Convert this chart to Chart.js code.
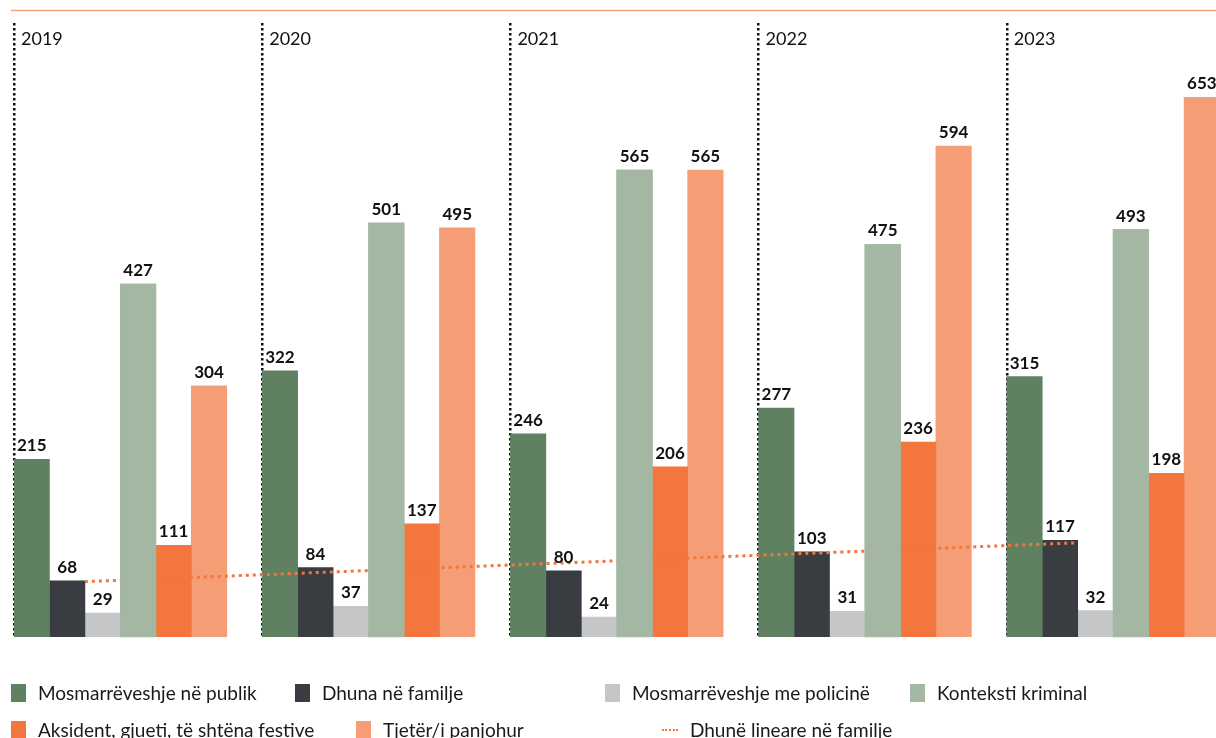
<!DOCTYPE html>
<html>
<head>
<meta charset="utf-8">
<script src="https://cdn.jsdelivr.net/npm/chart.js@4/dist/chart.umd.min.js"></script>
<style>
  body { margin: 0; overflow: hidden; background: #fff; font-family: Lato, sans-serif; }
  #wrap { position: relative; width: 1256px; height: 738px; }
  .lg { position: absolute; font-size: 19px; color: #1a1a1a; white-space: nowrap; line-height: 20px; }
  .sw { position: absolute; width: 15px; height: 18px; }
  .dl { position: absolute; width: 16px; height: 0; border-top: 2px dotted #f2763d; }
</style>
</head>
<body>
<div id="wrap">
  <canvas id="myChart" width="1256" height="738"></canvas>
</div>
<script>
const years = ['2019', '2020', '2021', '2022', '2023']

const publik = [215, 322, 246, 277, 315]
const familje = [68, 84, 80, 103, 117]
const policine = [29, 37, 24, 31, 32]
const kriminal = [427, 501, 565, 475, 493]
const aksident = [111, 137, 206, 236, 198]
const panjohur = [304, 495, 565, 594, 653]

// trend line (start 2019, end 2023)
const trendYear = [0, 4]
const trend = [67, 114]

const names = [
    'Mosmarrëveshje në publik',
    'Dhuna në familje',
    'Mosmarrëveshje me policinë',
    'Konteksti kriminal',
    'Aksident, gjueti, të shtëna festive',
    'Tjetër/i panjohur',
    'Dhunë lineare në familje'
]
const colors = ['#5f8161', '#393d41', '#c5c6c8', '#a4b7a3', '#f2763d', '#f59e75']

const ctx = document.getElementById('myChart').getContext('2d')

// each year is one unit on the x axis, bars fill 6 of its 7 slots
const series = [publik, familje, policine, kriminal, aksident, panjohur]
const datasets = series.map((d, i) => ({
    label: names[i],
    data: d.map((v, k) => ({ x: k + 0.5, y: v })),
    backgroundColor: colors[i],
    borderWidth: 0
}))
// empty 7th slot
datasets.push({ label: '', data: years.map((y, k) => ({ x: k + 0.5, y: 0 })), backgroundColor: 'transparent' })
// trend line runs from the right edge of the dark bars
datasets.push({
    type: 'line',
    label: names[6],
    data: trendYear.map((k, i) => ({ x: k + 2 / 7, y: trend[i] })),
    borderColor: '#f2763d',
    borderWidth: 3,
    borderDash: [3, 4],
    pointRadius: 0,
    fill: false,
    order: -1
})

const extras = {
    id: 'extras',
    beforeDraw(chart) {
        const c = chart.ctx
        c.save()
        c.strokeStyle = '#f8a272'
        c.lineWidth = 1.5
        c.beginPath()
        c.moveTo(11, 10.5)
        c.lineTo(chart.width, 10.5)
        c.stroke()
        c.restore()
    },
    afterDatasetsDraw(chart) {
        // sage bars sit on top of the trend line
        chart.getDatasetMeta(3).controller.draw()
        const c = chart.ctx
        const xs = chart.scales.x
        c.save()
        c.fillStyle = '#111'
        c.font = '18px Lato'
        c.textBaseline = 'middle'
        c.textAlign = 'left'
        years.forEach((y, i) => {
            c.fillText(y, xs.getPixelForValue(i) + 7, 39)
        })
        c.font = 'bold 17px Lato'
        c.textAlign = 'center'
        c.textBaseline = 'bottom'
        for (let d = 0; d < 6; d++) {
            chart.getDatasetMeta(d).data.forEach((el, i) => {
                c.fillText(series[d][i], el.x, el.y - 5)
            })
        }
        c.restore()
    }
}

const config = {
    type: 'bar',
    data: { datasets },
    options: {
        responsive: false,
        animation: false,
        barThickness: 1241 / 35,
        layout: { padding: { left: 14, right: 1, top: 23, bottom: 101 } },
        plugins: { legend: { display: false }, tooltip: { enabled: false } },
        scales: {
            x: {
                type: 'linear',
                min: 0,
                max: 5,
                offset: false,
                ticks: { display: false, stepSize: 1 },
                grid: { offset: false, color: '#111', lineWidth: 2.5, drawTicks: false },
                border: { display: false, dash: [2.5, 2.5] },
                afterFit: s => { s.height = 0 }
            },
            y: { min: 0, max: 743, display: false }
        }
    },
    plugins: [extras]
}

const myChart = new Chart(ctx, config)

// legend
const items = [
    { t: names[0], c: colors[0], x: 11, y: 684 },
    { t: names[1], c: colors[1], x: 295, y: 684 },
    { t: names[2], c: colors[2], x: 605, y: 684 },
    { t: names[3], c: colors[3], x: 910, y: 684 },
    { t: names[4], c: colors[4], x: 11, y: 721 },
    { t: names[5], c: colors[5], x: 356, y: 721 },
    { t: names[6], line: true, x: 662, y: 721 }
]
const wrap = document.getElementById('wrap')
items.forEach(it => {
    const m = document.createElement('div')
    if (it.line) {
        m.className = 'dl'
        m.style.left = it.x + 'px'
        m.style.top = (it.y + 8) + 'px'
    } else {
        m.className = 'sw'
        m.style.left = it.x + 'px'
        m.style.top = it.y + 'px'
        m.style.background = it.c
    }
    wrap.appendChild(m)
    const t = document.createElement('div')
    t.className = 'lg'
    t.textContent = it.t
    t.style.left = (it.x + (it.line ? 28 : 27)) + 'px'
    t.style.top = (it.y - 1) + 'px'
    wrap.appendChild(t)
})
</script>
</body>
</html>
